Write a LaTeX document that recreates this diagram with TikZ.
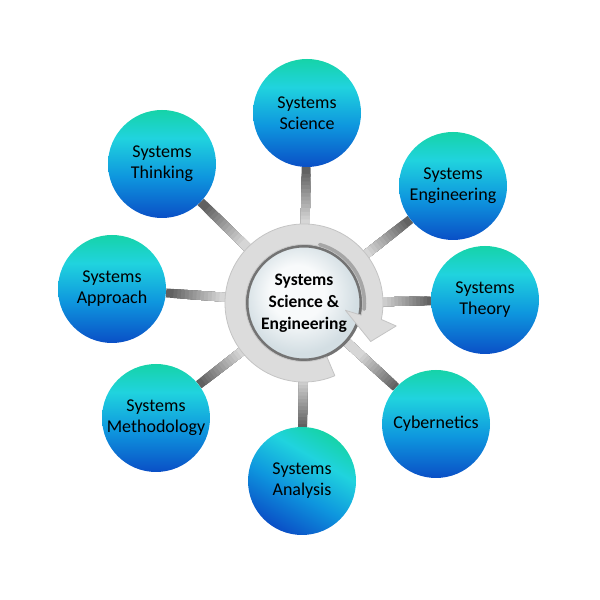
\documentclass[tikz,border=0pt]{standalone}
\usepackage{fontspec}
\setmainfont{Carlito}
\usetikzlibrary{calc,backgrounds}
\definecolor{satteal}{HTML}{16D3A8}
\definecolor{satcyan}{HTML}{20D3DE}
\definecolor{satmid}{HTML}{0E96DE}
\definecolor{satblue}{HTML}{0A4FC6}
\definecolor{ringgray}{HTML}{DCDCDC}
\definecolor{ringedge}{HTML}{C4C4C4}
\definecolor{corelight}{HTML}{F8FAFB}
\definecolor{coreblue}{HTML}{D3DEE3}
\pgfdeclareverticalshading{satshade}{100bp}{color(0bp)=(satblue); color(25bp)=(satblue); color(44bp)=(satmid); color(62bp)=(satcyan); color(75bp)=(satteal); color(100bp)=(satteal)}
\pgfdeclareradialshading{coreshade}{\pgfpoint{-4bp}{6bp}}{color(0bp)=(corelight); color(12bp)=(corelight); color(25bp)=(coreblue); color(50bp)=(coreblue)}
\tikzset{
  sat/.style={circle, minimum size=108pt, inner sep=0pt, shade, shading=satshade, align=center, font=\fontsize{18}{21}\selectfont},
  hub/.style={circle, minimum size=114pt, inner sep=0pt, shade, shading=coreshade, draw=black!55, line width=3pt, align=center, font=\fontsize{17.5}{22}\selectfont\bfseries},
  spoke/.style={line width=9pt, line cap=butt},
  ringband/.style={fill=ringgray, draw=ringedge, line width=0.8pt, line join=round},
  ringshadow/.style={draw=black!35, line width=3.5pt, line cap=round},
}

\begin{document}
\begin{tikzpicture}[x=1pt,y=1pt]
\useasboundingbox (0,0) rectangle (600,600);
\node[sat] (sci) at (307,487) {Systems\\Science};
\node[sat] (eng) at (453,414) {Systems\\Engineering};
\node[sat] (theo) at (485,300) {Systems\\Theory};
\node[sat] (cyb) at (436,176) {Cybernetics};
\node[sat, shading angle=-30] (ana) at (302,119) {Systems\\Analysis};
\node[sat] (meth) at (156,182) {Systems\\Methodology};
\node[sat] (appr) at (112,311) {Systems\\Approach};
\node[sat] (think) at (162,436) {Systems\\Thinking};
\node[hub] (core) at (304,297) {Systems\\Science \&\\Engineering};
\begin{pgfonlayer}{background}
\foreach \s in {sci,eng,theo,cyb,ana,meth,appr,think} {
  \draw[spoke, draw=black!62] (core) -- (\s);
  \foreach \i [evaluate=\i as \f using 0.68-0.02*\i, evaluate=\i as \g using 58-3.5*\i] in {0,...,12}
    \draw[spoke, draw=black!\g] (core) -- ($(core)!\f!(\s)$);
}
\end{pgfonlayer}
\draw[ringband] ([shift={(-67:79)}]core.center) arc[start angle=-67, end angle=-372, radius=79]
  -- ([shift={(-14:95)}]core.center) -- ([shift={(-30:77)}]core.center)
  -- ([shift={(-10:42)}]core.center) -- ([shift={(-12:58.5)}]core.center)
  arc[start angle=-372, end angle=-67, radius=58.5] -- cycle;
\draw[ringshadow] ([shift={(75:60.5)}]core.center) arc[start angle=75, end angle=-6, radius=60.5];
\end{tikzpicture}
\end{document}
